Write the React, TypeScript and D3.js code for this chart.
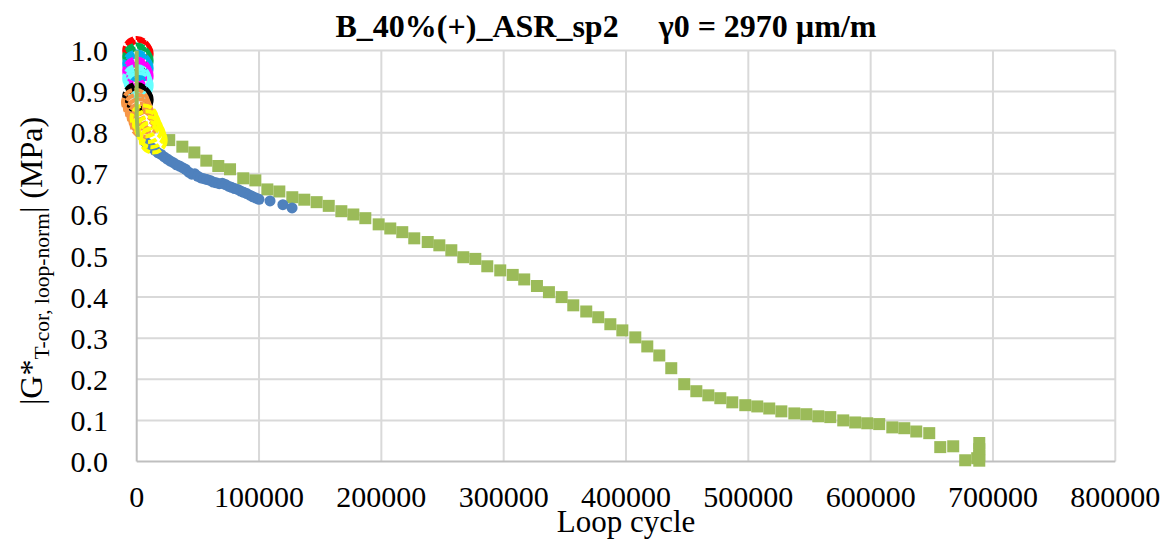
import React from "react";
import * as d3 from "d3";

const W = 1174;
const H = 540;

const xTicks = [0, 100000, 200000, 300000, 400000, 500000, 600000, 700000, 800000];
const yTicks = [0, 0.1, 0.2, 0.3, 0.4, 0.5, 0.6, 0.7, 0.8, 0.9, 1.0];

// Olive squares series
const oliveX = [26600, 37300, 47100, 56900, 66700, 76300, 87100, 97000, 106800, 116600, 127200, 137000, 147100, 157000, 167300, 177100, 186900, 197800, 207300, 217100, 226900, 237900, 247400, 257200, 267000, 276800, 286600, 297200, 307400, 316800, 327200, 337000, 347400, 356900, 367500, 377300, 387200, 397000, 407600, 417400, 427200, 437000, 447600, 457500, 467300, 477100, 486900, 497500, 507300, 517100, 527000, 537600, 547400, 557200, 567000, 577600, 587400, 597200, 607000, 617700, 627500, 637300, 647900, 656900, 667500, 677300, 687100, 688800, 688800, 688800, 688800];
const oliveY = [0.782, 0.766, 0.752, 0.732, 0.719, 0.711, 0.689, 0.684, 0.662, 0.657, 0.643, 0.637, 0.631, 0.622, 0.609, 0.601, 0.592, 0.577, 0.567, 0.558, 0.543, 0.534, 0.526, 0.514, 0.497, 0.493, 0.475, 0.465, 0.454, 0.443, 0.427, 0.412, 0.400, 0.380, 0.365, 0.351, 0.334, 0.319, 0.302, 0.280, 0.258, 0.227, 0.188, 0.171, 0.161, 0.154, 0.144, 0.137, 0.134, 0.129, 0.122, 0.117, 0.115, 0.110, 0.108, 0.100, 0.095, 0.093, 0.091, 0.083, 0.081, 0.073, 0.069, 0.035, 0.037, 0.003, 0.008, 0.045, 0.030, 0.015, 0.002];
// Olive early points (at start, drawn as thin trace)
const oliveEarlyX = [0, 0, 0, 1000];
const oliveEarlyY = [1.0, 0.92, 0.84, 0.79];

// Blue circles series
const blueX = [6800, 8000, 10000, 12500, 15000, 17500, 20000, 22500, 25000, 27500, 30000, 32500, 35000, 37500, 40000, 42500, 45000, 47500, 50000, 52500, 55000, 57500, 60000, 62500, 65000, 67500, 70000, 72500, 75000, 77500, 80000, 82500, 85000, 87500, 90000, 92500, 95000, 97500, 100000, 109000, 119500, 127000];
const blueY = [0.778, 0.775, 0.770, 0.763, 0.757, 0.751, 0.747, 0.741, 0.736, 0.731, 0.727, 0.722, 0.719, 0.715, 0.711, 0.704, 0.699, 0.700, 0.694, 0.690, 0.688, 0.686, 0.684, 0.680, 0.678, 0.676, 0.677, 0.674, 0.670, 0.667, 0.664, 0.662, 0.658, 0.655, 0.652, 0.648, 0.644, 0.641, 0.638, 0.634, 0.625, 0.617];

// Early dashed-ring series
const redX = [0, 1000, 2000];
const redY = [1.0, 0.996, 0.992];
const greenX = [0, 1000, 2000];
const greenY = [0.984, 0.979, 0.975];
const skyX = [0, 1000, 2000];
const skyY = [0.967, 0.962, 0.957];
const magentaX = [0, 1000, 2000];
const magentaY = [0.950, 0.944, 0.938];
const cyanX = [0, 1000, 2000];
const cyanY = [0.932, 0.924, 0.915];
const blackX = [0, 1000, 2000];
const blackY = [0.888, 0.884, 0.880];
const orangeX = [-1000, 500, 2000, 3500, 5000, 6000];
const orangeY = [0.874, 0.862, 0.851, 0.840, 0.830, 0.820];
const yellowX = [6000, 8000, 10000, 12000, 13500];
const yellowY = [0.836, 0.822, 0.808, 0.795, 0.782];

const ringSeries = [
  { xs: redX, ys: redY, color: "#FF0000" },
  { xs: greenX, ys: greenY, color: "#00B050" },
  { xs: skyX, ys: skyY, color: "#00B0F0" },
  { xs: magentaX, ys: magentaY, color: "#FF00FF" },
  { xs: cyanX, ys: cyanY, color: "#66FFFF" },
  { xs: blackX, ys: blackY, color: "#000000" },
  { xs: orangeX, ys: orangeY, color: "#F79646" },
  { xs: yellowX, ys: yellowY, color: "#FFFF00" },
];

const FONT = "Liberation Serif, Tinos, DejaVu Serif, serif";
const tf = { fontFamily: FONT };

export default function App() {
  const x = d3.scaleLinear().domain([0, 800000]).range([136.7, 1115.3]);
  const y = d3.scaleLinear().domain([0, 1]).range([461.5, 50.5]);
  const sq = 12;
  const earlyLine = d3
    .line<number>()
    .x((_, i) => x(oliveEarlyX[i]))
    .y((d) => y(d));

  return (
    <svg
      width={W}
      height={H}
      style={{ position: "absolute", left: 0, top: 0, background: "#fff" }}
    >
      <rect x={0} y={0} width={W} height={H} fill="#fff" />
      {/* gridlines */}
      {yTicks.slice(1).map((t) => (
        <line key={"gy" + t} x1={x(0)} x2={x(800000)} y1={y(t)} y2={y(t)} stroke="#d9d9d9" strokeWidth={2} />
      ))}
      {xTicks.slice(1).map((t) => (
        <line key={"gx" + t} x1={x(t)} x2={x(t)} y1={y(0)} y2={y(1)} stroke="#d9d9d9" strokeWidth={2} />
      ))}
      {/* axes */}
      <line x1={x(0)} x2={x(800000)} y1={y(0)} y2={y(0)} stroke="#bfbfbf" strokeWidth={2} />
      <line x1={x(0)} x2={x(0)} y1={y(0)} y2={y(1)} stroke="#bfbfbf" strokeWidth={2} />

      {/* tick labels */}
      {yTicks.map((t) => (
        <text key={"ty" + t} x={108} y={y(t)} dy="0.35em" textAnchor="end" fontSize={30} fill="#000" style={tf}>
          {t.toFixed(1)}
        </text>
      ))}
      {xTicks.map((t) => (
        <text key={"tx" + t} x={x(t)} y={507} textAnchor="middle" fontSize={30} fill="#000" style={tf}>
          {String(t)}
        </text>
      ))}

      {/* olive squares */}
      {oliveX.map((v, i) => (
        <rect key={"o" + i} x={x(v) - sq / 2} y={y(oliveY[i]) - sq / 2} width={sq} height={sq} fill="#9BBB59" />
      ))}

      {/* blue circles */}
      {blueX.map((v, i) => (
        <circle key={"b" + i} cx={x(v)} cy={y(blueY[i])} r={5.5} fill="#4F81BD" />
      ))}

      {/* dashed rings */}
      {ringSeries.map((s, si) =>
        s.xs.map((v, i) => (
          <circle
            key={"r" + si + "_" + i}
            cx={x(v)}
            cy={y(s.ys[i])}
            r={12.5}
            fill="none"
            stroke={s.color}
            strokeWidth={4}
            strokeDasharray="9 2.5"
          />
        ))
      )}

      {/* olive early trace */}
      <path d={earlyLine(oliveEarlyY) || ""} fill="none" stroke="#9BBB59" strokeWidth={4} />

      {/* title */}
      <text x={606} y={37} textAnchor="middle" fontSize={32} fontWeight="bold" fill="#000" style={tf}>
        {"B_40%(+)_ASR_sp2\u00a0\u00a0\u00a0\u00a0\u00a0γ0 = 2970 µm/m"}
      </text>

      {/* x axis title */}
      <text x={626} y={532} textAnchor="middle" fontSize={31} fill="#000" style={tf}>
        Loop cycle
      </text>

      {/* y axis title */}
      <text transform="translate(42,261) rotate(-90)" textAnchor="middle" fontSize={32} fill="#000" style={tf}>
        <tspan>|G*</tspan>
        <tspan fontSize={21.5} dy={7}>T-cor, loop-norm</tspan>
        <tspan dy={-7}>| (MPa)</tspan>
      </text>
    </svg>
  );
}
